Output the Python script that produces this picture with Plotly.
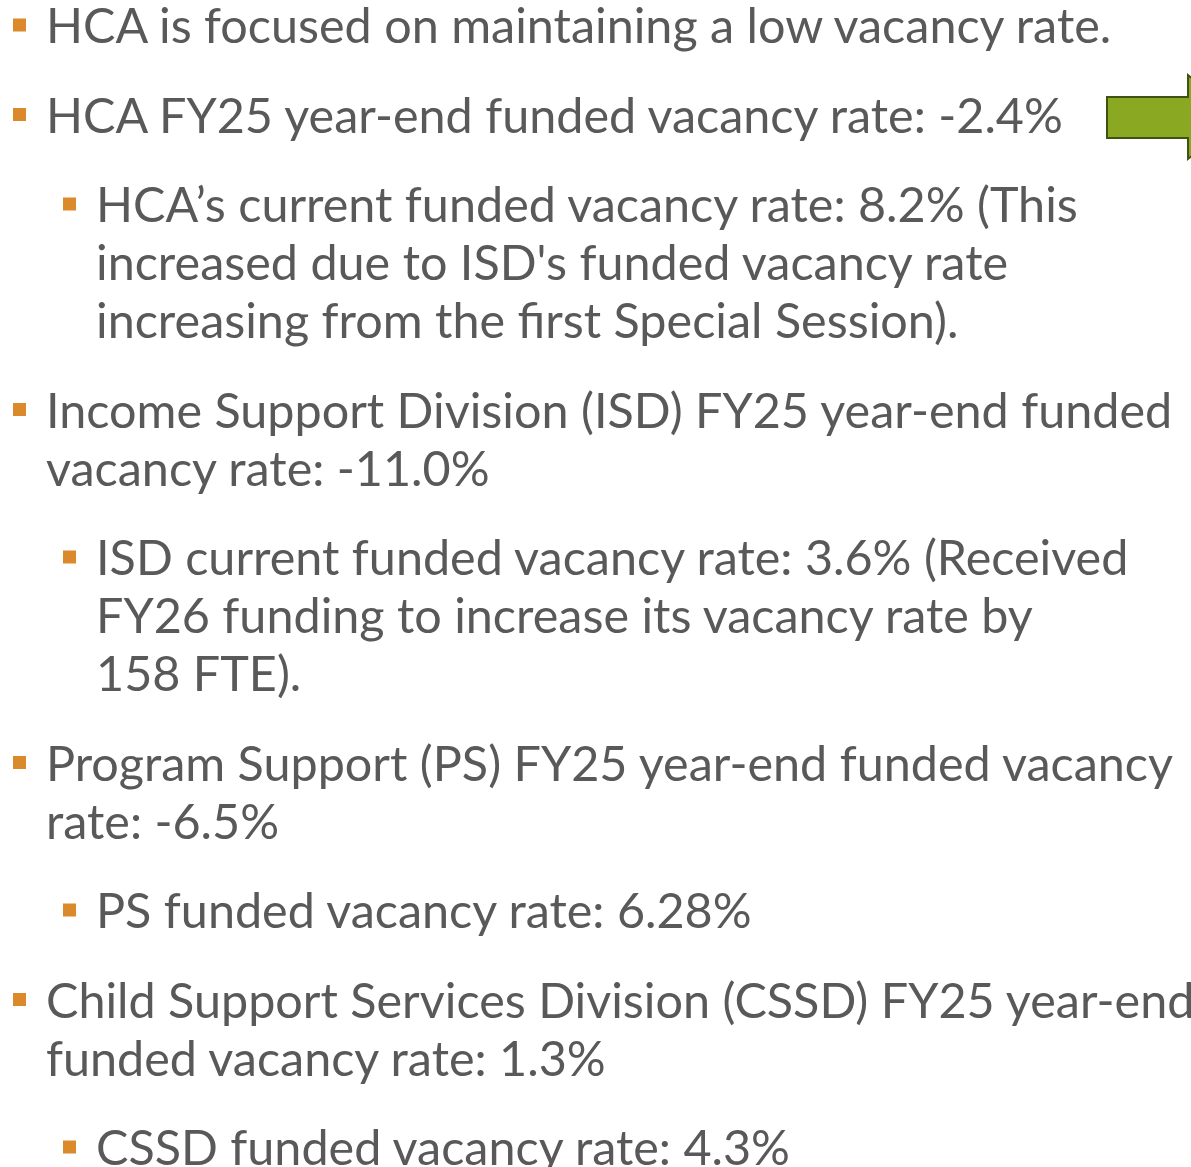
import plotly.graph_objects as go

# Slide content: (level, [wrapped lines])
items = [
    (1, ["HCA is focused on maintaining a low vacancy rate."]),
    (1, ["HCA FY25 year-end funded vacancy rate: -2.4%"]),
    (2, ["HCA’s current funded vacancy rate: 8.2% (This",
         "increased due to ISD's funded vacancy rate",
         "increasing from the first Special Session)."]),
    (1, ["Income Support Division (ISD) FY25 year-end funded",
         "vacancy rate: -11.0%"]),
    (2, ["ISD current funded vacancy rate: 3.6% (Received",
         "FY26 funding to increase its vacancy rate by",
         "158 FTE)."]),
    (1, ["Program Support (PS) FY25 year-end funded vacancy",
         "rate: -6.5%"]),
    (2, ["PS funded vacancy rate: 6.28%"]),
    (1, ["Child Support Services Division (CSSD) FY25 year-end",
         "funded vacancy rate: 1.3%"]),
    (2, ["CSSD funded vacancy rate: 4.3%"]),
]

W, H = 1191, 1167
TEXT = "#595959"
BULLET = "#DA8A2B"
FONT = "Lato"
FSIZE = 48.5

text_x = {1: 44, 2: 94}
bullet_x = {1: 19.5, 2: 69.5}
first_y = 24
para_gap = 89.5
line_gap = 58

fig = go.Figure()
annotations = []
bx, by = [], []
y = first_y
for i, (lvl, lines) in enumerate(items):
    if i > 0:
        y += para_gap
    bx.append(bullet_x[lvl])
    by.append(y + 1)
    for j, ln in enumerate(lines):
        if j > 0:
            y += line_gap
        annotations.append(dict(
            x=text_x[lvl], y=y, xref="x", yref="y", text=ln,
            showarrow=False, xanchor="left", yanchor="middle",
            font=dict(family=FONT, size=FSIZE, color=TEXT),
        ))

fig.add_trace(go.Scatter(
    x=bx, y=by, mode="markers", hoverinfo="skip",
    marker=dict(symbol="square", size=13, color=BULLET, line=dict(width=0)),
))

# Green block arrow at right edge (decorative)
fig.add_shape(
    type="path",
    path="M 1107 97 L 1188 97 L 1188 75 L 1240 117 L 1188 159 L 1188 138 L 1107 138 Z",
    xref="x", yref="y",
    fillcolor="#8BA823", line=dict(color="#3E5211", width=2),
)

fig.update_layout(
    width=W, height=H,
    margin=dict(l=0, r=0, t=0, b=0),
    paper_bgcolor="white", plot_bgcolor="white",
    showlegend=False,
    annotations=annotations,
    xaxis=dict(range=[0, W], visible=False, fixedrange=True),
    yaxis=dict(range=[H, 0], visible=False, fixedrange=True),
)

fig.write_html("out.html", config={"displayModeBar": False},
               post_script="document.body.style.margin='0';document.body.style.overflow='hidden';")
